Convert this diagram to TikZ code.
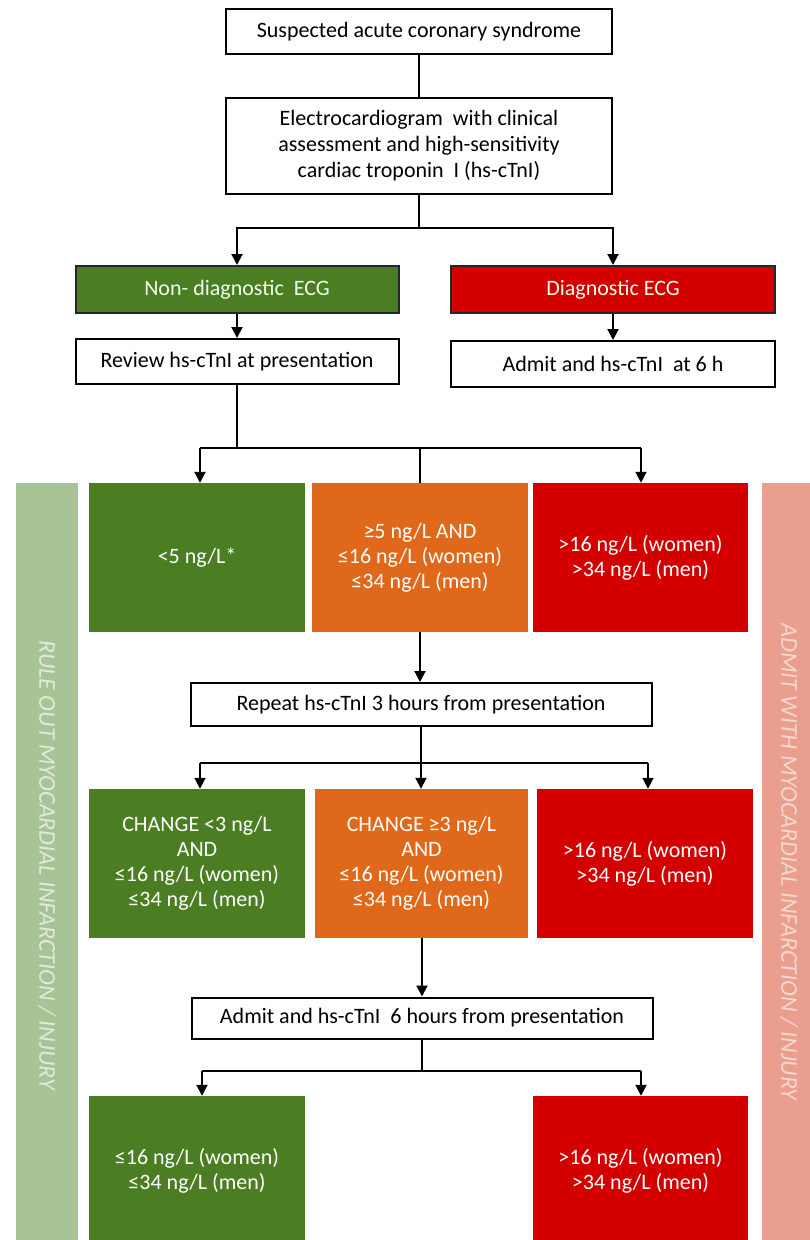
\documentclass[tikz,border=0pt]{standalone}
\usepackage{fontspec}
\setmainfont{Carlito}
\usetikzlibrary{arrows.meta}
\definecolor{cgreen}{RGB}{75,125,34}
\definecolor{corange}{RGB}{224,104,26}
\definecolor{cred}{RGB}{212,0,0}
\definecolor{bandg}{RGB}{168,196,150}
\definecolor{bandr}{RGB}{233,158,142}
\tikzset{
  wbox/.style={draw=black, line width=2pt, fill=white, inner sep=0pt, align=center, font=\fontsize{22}{26}\selectfont},
  hbox/.style={draw=black!85, line width=2pt, inner sep=0pt, align=center, text=white!92!green, font=\fontsize{22}{26}\selectfont},
  cbox/.style={draw=none, inner sep=0pt, align=center, text=white, font=\fontsize{22}{25}\selectfont, minimum width=216pt, minimum height=149pt},
  conn/.style={line width=2pt, black},
  arr/.style={conn, -{Triangle[width=11pt,length=11pt]}},
  bandtext/.style={rotate=-90, font=\fontsize{24}{26}\selectfont\itshape},
}
\begin{document}
\begin{tikzpicture}[x=1pt,y=-1pt]
\useasboundingbox (0,0) rectangle (810,1240);
\fill[white] (0,0) rectangle (810,1240);
% side bands
\fill[bandg] (16,483) rectangle (78,1240);
\fill[bandr] (762,483) rectangle (810,1240);
\node[bandtext, text=white!65!bandg] (lt) at (47,865) {RULE OUT MYOCARDIAL INFARCTION / INJURY};
\node[bandtext, text=white!60!bandr] (rt) at (789,862) {ADMIT WITH MYOCARDIAL INFARCTION / INJURY};
% top
\node[wbox, minimum width=386pt, minimum height=45pt] (s1) at (419,31.5) {Suspected acute coronary syndrome};
\node[wbox, minimum width=386pt, minimum height=96pt] (s2) at (419,146) {Electrocardiogram\ \ with clinical\\assessment and high-sensitivity\\cardiac troponin\ \ I (hs-cTnI)};
\node[hbox, fill=cgreen, minimum width=323pt, minimum height=47pt] (nd) at (237,289.5) {Non- diagnostic\ \ ECG};
\node[hbox, fill=cred, minimum width=324pt, minimum height=47pt] (dg) at (613,289.5) {Diagnostic ECG};
\node[wbox, minimum width=323pt, minimum height=45pt] (rv) at (237,361.5) {Review hs-cTnI at presentation};
\node[wbox, minimum width=324pt, minimum height=46pt] (ad) at (613,364) {Admit and hs-cTnI\ \ at 6 h};
% row 1
\node[cbox, fill=cgreen] (g1) at (197,557.5) {<5 ng/L*};
\node[cbox, fill=corange] (o1) at (420,557.5) {≥5 ng/L AND\\≤16 ng/L (women)\\≤34 ng/L (men)};
\node[cbox, fill=cred, minimum width=215pt] (r1) at (640.5,557.5) {>16 ng/L (women)\\>34 ng/L (men)};
\node[wbox, minimum width=461pt, minimum height=43pt] (rp) at (421,704.5) {Repeat hs-cTnI 3 hours from presentation};
% row 2
\node[cbox, fill=cgreen] (g2) at (197,863.5) {CHANGE <3 ng/L\\AND\\≤16 ng/L (women)\\≤34 ng/L (men)};
\node[cbox, fill=corange, minimum width=213pt] (o2) at (421.5,863.5) {CHANGE ≥3 ng/L\\AND\\≤16 ng/L (women)\\≤34 ng/L (men)};
\node[cbox, fill=cred] (r2) at (645,863.5) {>16 ng/L (women)\\>34 ng/L (men)};
\node[wbox, minimum width=461pt, minimum height=41pt] (a6) at (422,1018) {Admit and hs-cTnI\ \ 6 hours from presentation};
% final row
\node[cbox, fill=cgreen, minimum height=150pt] (f1) at (197,1171) {≤16 ng/L (women)\\≤34 ng/L (men)};
\node[cbox, fill=cred, minimum width=215pt, minimum height=150pt] (f2) at (640.5,1171) {>16 ng/L (women)\\>34 ng/L (men)};
% connectors
\draw[conn] (s1.south) -- (s2.north);
\coordinate (j1) at (419,228);
\draw[conn] (s2.south) -- (j1);
\draw[arr] (j1) -| (nd.north);
\draw[arr] (j1) -| (dg.north);
\draw[arr] (nd.south) -- (rv.north);
\draw[arr] (dg.south) -- (ad.north);
\coordinate (j2) at (237,448);
\draw[conn] (rv.south) -- (j2);
\coordinate (j2l) at (200,448);
\coordinate (j2r) at (641,448);
\draw[conn] (j2l) -- (j2r);
\draw[arr] (j2l) -- (g1.north -| j2l);
\draw[arr] (j2r) -- (r1.north -| j2r);
\draw[conn] (o1.north |- j2) -- (o1.north);
\draw[arr] (o1.south) -- (rp.north -| o1.south);
\coordinate (j3) at (421,763);
\draw[conn] (rp.south) -- (j3);
\coordinate (j3l) at (200,763);
\coordinate (j3r) at (648,763);
\draw[conn] (j3l) -- (j3r);
\draw[arr] (j3l) -- (g2.north -| j3l);
\draw[arr] (j3) -- (o2.north -| j3);
\draw[arr] (j3r) -- (r2.north -| j3r);
\draw[arr] (o2.south -| a6.north) -- (a6.north);
\coordinate (j4) at (422,1071);
\draw[conn] (a6.south) -- (j4);
\coordinate (j4l) at (202,1071);
\coordinate (j4r) at (641,1071);
\draw[conn] (j4l) -- (j4r);
\draw[arr] (j4l) -- (f1.north -| j4l);
\draw[arr] (j4r) -- (f2.north -| j4r);
\end{tikzpicture}
\end{document}
